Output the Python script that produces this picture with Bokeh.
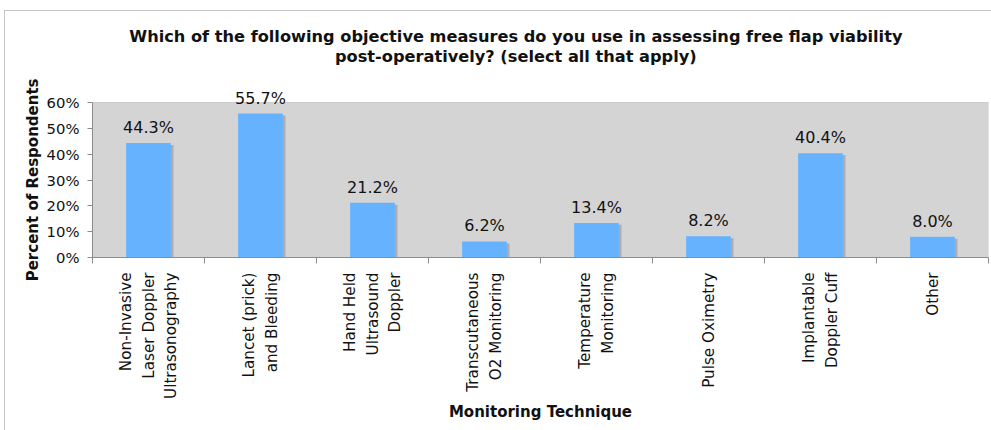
import math
from bokeh.plotting import figure
from bokeh.models import Range1d, FixedTicker, PrintfTickFormatter, ColumnDataSource, BoxAnnotation, Title
from bokeh.core.properties import value
from bokeh.embed import file_html
from bokeh.resources import INLINE

categories = [
    "Non-Invasive\nLaser Doppler\nUltrasonography",
    "Lancet (prick)\nand Bleeding",
    "Hand Held\nUltrasound\nDoppler",
    "Transcutaneous\nO2 Monitoring",
    "Temperature\nMonitoring",
    "Pulse Oximetry",
    "Implantable\nDoppler Cuff",
    "Other",
]
percents = [44.3, 55.7, 21.2, 6.2, 13.4, 8.2, 40.4, 8.0]
y_ticks = [0, 10, 20, 30, 40, 50, 60]
y_max = 60

title_lines = [
    "Which of the following objective measures do you use in assessing free flap viability",
    "post-operatively? (select all that apply)",
]
y_title = "Percent of Respondents"
x_title = "Monitoring Technique"

FONT = "DejaVu Sans"
idx = list(range(len(categories)))

src = ColumnDataSource(dict(
    x=idx,
    top=percents,
    sx=[i + 0.023 for i in idx],
    stop=[v - 0.75 for v in percents],
    lbl=["%.1f%%" % v for v in percents],
))

# frame spans from the top of the chart box down to the 0% line;
# the 0-60% region is 155 px of the 246 px tall frame
frame_h = 246
plot_h = 155
y_top = y_max * frame_h / plot_h

p = figure(
    frame_width=896, frame_height=frame_h,
    x_range=Range1d(-0.5, len(categories) - 0.5),
    y_range=Range1d(0, y_top),
    output_backend="svg", toolbar_location=None,
    min_border_left=87, min_border_right=3, min_border_top=0, min_border_bottom=173,
    background_fill_color="white",
    border_fill_color="white",
    outline_line_color=None,
    margin=(10, 0, 0, 4),
    styles={"border": "1px solid #c4c4c4"},
)
p.xgrid.visible = False
p.ygrid.visible = False

p.add_layout(BoxAnnotation(bottom=0, top=y_max, fill_color="#d4d4d4", fill_alpha=1,
                           line_color="#8c8c8c", line_width=1, level="underlay"))

# shadow
p.vbar(x="sx", top="stop", width=0.40, source=src, fill_color="#a2a2a2", fill_alpha=0.8, line_color=None)
p.vbar(x="x", top="top", width=0.40, source=src, fill_color="#66b2ff", line_color=None)
p.text(x="x", y="top", text="lbl", source=src, text_align="center", text_baseline="bottom",
       y_offset=-6, text_font=value(FONT), text_font_size="16px", text_color="#111111")

# x axis
xa = p.xaxis[0]
xa.ticker = FixedTicker(ticks=idx, minor_ticks=[i + 0.5 for i in range(-1, len(categories))])
xa.major_label_overrides = {i: c for i, c in enumerate(categories)}
xa.major_label_orientation = math.pi / 2
xa.major_tick_out = 0
xa.major_tick_in = 0
xa.minor_tick_out = 6
xa.minor_tick_in = 0
xa.minor_tick_line_color = "#8c8c8c"
xa.axis_line_color = "#8c8c8c"
xa.major_label_text_font = FONT
xa.major_label_text_font_size = "15.2px"
xa.major_label_text_color = "#111111"
xa.major_label_text_line_height = 1.24
xa.major_label_standoff = 9
xa.axis_label = x_title
xa.axis_label_text_font = FONT
xa.axis_label_text_font_style = "bold"
xa.axis_label_text_font_size = "15px"
xa.axis_label_text_color = "#111111"
xa.axis_label_standoff = 1

ya = p.yaxis[0]
ya.bounds = (0, y_max)
ya.ticker = FixedTicker(ticks=y_ticks)
ya.formatter = PrintfTickFormatter(format="%d%%")
ya.minor_tick_out = 0
ya.minor_tick_in = 0
ya.major_tick_out = 5
ya.major_tick_in = 0
ya.major_tick_line_color = "#8c8c8c"
ya.axis_line_color = "#8c8c8c"
ya.major_label_text_font = FONT
ya.major_label_text_font_size = "14.8px"
ya.major_label_text_color = "#111111"
ya.major_label_standoff = 8

# y-axis title as a side title, positioned along the 0-60% region
p.add_layout(Title(text=y_title, align="right", offset=67, text_font=FONT,
                   text_font_style="bold", text_font_size="15px", text_color="#111111",
                   standoff=4), "left")

# two-line chart title, inside the chart box above the plot area
title_src = ColumnDataSource(dict(
    x=[3.28, 3.28],
    y=[y_max * (257 - 36) / plot_h, y_max * (257 - 56) / plot_h],
    t=title_lines,
))
p.text(x="x", y="y", text="t", source=title_src, text_align="center", text_baseline="middle",
       text_font=value(FONT), text_font_style="bold", text_font_size="16.2px", text_color="#111111")

open("out.html", "w").write(file_html(p, INLINE))
